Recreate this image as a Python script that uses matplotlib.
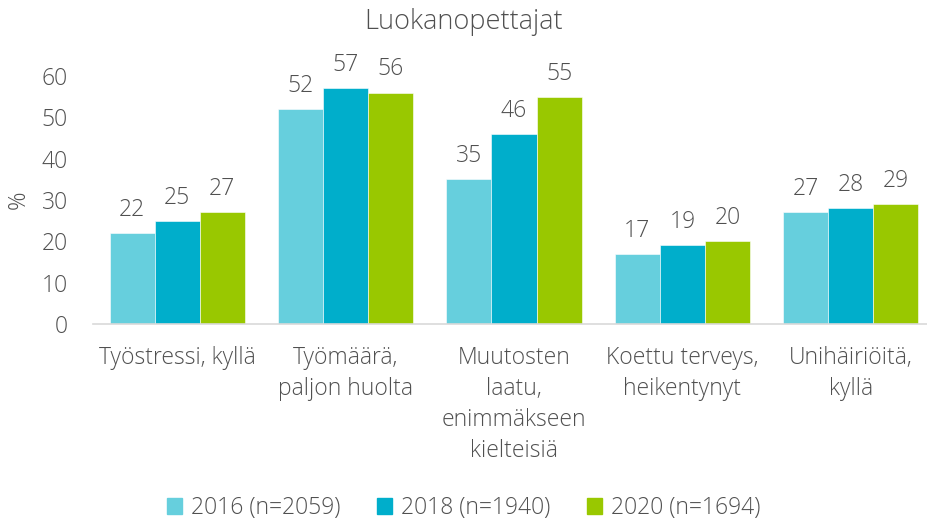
import numpy as np
import matplotlib.pyplot as plt
from matplotlib.patches import Patch

plt.rcParams['font.family'] = ['Open Sans', 'DejaVu Sans']

categories = ['Työstressi, kyllä', 'Työmäärä,\npaljon huolta', 'Muutosten\nlaatu,\nenimmäkseen\nkielteisiä',
              'Koettu terveys,\nheikentynyt', 'Unihäiriöitä,\nkyllä']
series = ['2016 (n=2059)', '2018 (n=1940)', '2020 (n=1694)']
v2016 = [22, 52, 35, 17, 27]
v2018 = [25, 57, 46, 19, 28]
v2020 = [27, 56, 55, 20, 29]
colors = ['#66CFDD', '#00AECB', '#99C800']
grey = '#595959'
fs = 16.5
wt = 'light'

fig = plt.figure(figsize=(9.28, 5.22), dpi=100)
ax = fig.add_axes([93 / 928, 1 - 324 / 522, 842 / 928, 248 / 522])

x = np.arange(len(categories))
w = 0.268
for i, vals in enumerate([v2016, v2018, v2020]):
    bars = ax.bar(x + (i - 1) * w, vals, w, color=colors[i], edgecolor='white', linewidth=0.4)
    for b, v in zip(bars, vals):
        ax.annotate(str(v), (b.get_x() + b.get_width() / 2, v), xytext=(0, 8), textcoords='offset points',
                    ha='center', va='bottom', fontsize=fs, color='#505050', fontweight=wt,
                    annotation_clip=False)

ax.set_xlim(-0.5, 4.5)
ax.set_ylim(0, 60)
ax.set_yticks(range(0, 61, 10))
ax.set_xticks(x)
ax.set_xticklabels(categories, fontsize=fs, color='#505050', linespacing=1.38, fontweight=wt)
ax.tick_params(axis='x', length=0, pad=16)
ax.tick_params(axis='y', length=0, labelsize=fs, labelcolor='#505050', pad=18)
for t in ax.get_yticklabels():
    t.set_fontweight(wt)
for s in ['top', 'right', 'left']:
    ax.spines[s].set_visible(False)
ax.spines['bottom'].set_color('#D9D9D9')
ax.spines['bottom'].set_linewidth(1.2)
ax.set_ylabel('%', fontsize=fs, color='#505050', labelpad=8, fontweight=wt)

fig.text(0.5, 1 - 22 / 522, 'Luokanopettajat', ha='center', va='center', fontsize=19.5, color='#505050',
         fontweight=wt)

handles = [Patch(color=c) for c in colors]
fig.legend(handles, series, loc='center', bbox_to_anchor=(0.5, 1 - 508 / 522), ncol=3, frameon=False,
           prop={'size': fs, 'weight': wt}, labelcolor='#505050', handlelength=0.65, handleheight=0.65,
           handletextpad=0.4, columnspacing=1.6)

fig.savefig('out.png', dpi=100)
